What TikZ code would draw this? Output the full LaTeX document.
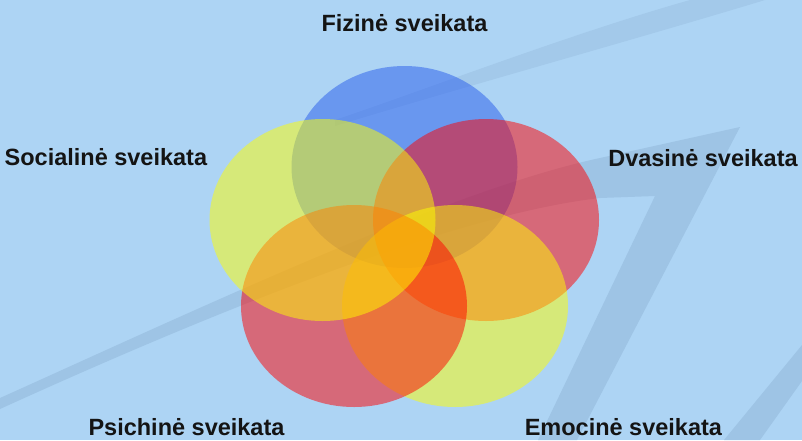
\documentclass[tikz,border=0pt]{standalone}
\usepackage{fontspec}
\setmainfont{Liberation Sans}
\usetikzlibrary{shapes.geometric}
\definecolor{bgblue}{RGB}{173,212,244}
\definecolor{swooshblue}{RGB}{158,196,229}
\definecolor{swooshfaint}{RGB}{163,201,234}
\definecolor{vblue}{RGB}{39,92,236}
\definecolor{vred}{RGB}{255,0,0}
\definecolor{vyellow}{RGB}{255,255,0}
\tikzset{
  petal/.style={ellipse, draw=none, inner sep=0pt,
    minimum width=226pt, minimum height=202pt, fill opacity=0.5},
  label/.style={font=\fontsize{23.5}{28}\selectfont\bfseries,
    text=black!92, inner sep=0pt, anchor=base},
  swoosh/.style={fill=swooshblue}
}
\begin{document}
\begin{tikzpicture}[x=1pt,y=-1pt]
% backdrop
\fill[bgblue] (0,0) rectangle (802,440);
\useasboundingbox (0,0) rectangle (802,440);

% faint background swooshes
\fill[swoosh] (0,398) .. controls (200,308) and (450,190) .. (600,158)
  -- (740,127) -- (577,440) -- (538,440) -- (655,196) -- (600,198)
  .. controls (450,215) and (200,318) .. (0,409) -- cycle;
\fill[swoosh, fill=swooshfaint] (335,120) .. controls (430,88) and (570,34) .. (690,0)
  -- (765,0) .. controls (640,38) and (460,88) .. (335,126) -- cycle;
\fill[swoosh] (802,345) -- (802,381) -- (760,440) -- (724,440) -- cycle;

% five overlapping ellipses, drawn clockwise from the top
\node[petal, fill=vblue]   (fiz) at (404.5,167) {};
\node[petal, fill=vred]    (dva) at (486,220) {};
\node[petal, fill=vyellow] (emo) at (455,306) {};
\node[petal, fill=vred]    (psi) at (354,306) {};
\node[petal, fill=vyellow] (soc) at (322.5,220) {};

% labels
\node[label] (lfiz) at (404.5,31.7) {Fizinė sveikata};
\node[label] (lsoc) at (105.9,165.7) {Socialinė sveikata};
\node[label] (ldva) at (703,166.7) {Dvasinė sveikata};
\node[label] (lpsi) at (186.5,435.5) {Psichinė sveikata};
\node[label] (lemo) at (623.4,435.5) {Emocinė sveikata};
\end{tikzpicture}
\end{document}
